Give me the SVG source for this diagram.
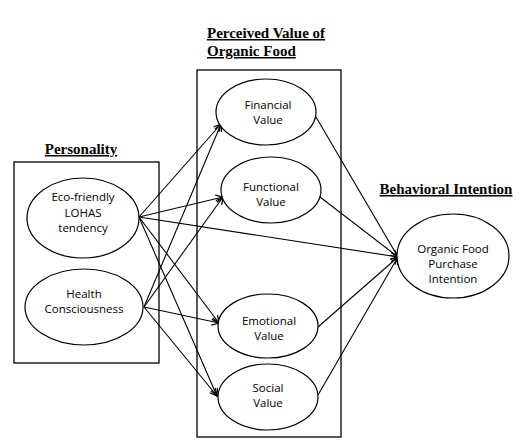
<svg xmlns="http://www.w3.org/2000/svg" width="522" height="445" viewBox="0 0 522 445">
<style>
.box{fill:none;stroke:#000;stroke-width:1.3}
.el{fill:#fff;stroke:#000;stroke-width:1.2}
.t{font-family:"Open Sans","Noto Sans",sans-serif;font-size:11.5px;text-anchor:middle;fill:#000}
.h{font-family:"Liberation Serif",serif;font-weight:bold;font-size:15px;text-decoration:underline;fill:#000}
.c line{stroke:#000;stroke-width:1.1;marker-end:url(#a)}
</style>
<defs>
<marker id="a" viewBox="0 0 10 10" refX="9" refY="5" markerWidth="9" markerHeight="9" markerUnits="userSpaceOnUse" orient="auto">
<path d="M1,1 L9,5 L1,9" fill="none" stroke="#000" stroke-width="1.4"/>
</marker>
</defs>
<rect x="0" y="0" width="522" height="445" fill="#fff"/>
<g id="personality-box">
<rect class="box" x="14" y="162" width="145" height="201"/>
<text class="h" x="81" y="154" text-anchor="middle">Personality</text>
</g>
<g id="value-box">
<rect class="box" x="197" y="70" width="144" height="367"/>
<text class="h" x="207" y="38">Perceived Value of</text>
<text class="h" x="207" y="56">Organic Food</text>
</g>
<text class="h" x="446" y="194" text-anchor="middle">Behavioral Intention</text>
<g class="c" id="connectors">
<line x1="139" y1="217" x2="221" y2="124"/>
<line x1="139" y1="217" x2="223" y2="197"/>
<line x1="139" y1="217" x2="219" y2="323"/>
<line x1="139" y1="217" x2="217" y2="396"/>
<line x1="139" y1="217" x2="398" y2="257"/>
<line x1="144" y1="307" x2="221" y2="124"/>
<line x1="144" y1="307" x2="223" y2="197"/>
<line x1="144" y1="307" x2="219" y2="323"/>
<line x1="144" y1="307" x2="217" y2="396"/>
<line x1="316" y1="117" x2="398" y2="257"/>
<line x1="320" y1="197" x2="398" y2="257"/>
<line x1="318" y1="327" x2="398" y2="257"/>
<line x1="318" y1="395" x2="398" y2="257"/>
</g>
<g id="eco">
<ellipse class="el" cx="83" cy="218" rx="56" ry="40"/>
<text class="t" x="83" y="201">Eco-friendly</text>
<text class="t" x="83" y="216.5">LOHAS</text>
<text class="t" x="83" y="232">tendency</text>
</g>
<g id="health">
<ellipse class="el" cx="84" cy="307" rx="59" ry="38"/>
<text class="t" x="84" y="298">Health</text>
<text class="t" x="84" y="313">Consciousness</text>
</g>
<g id="financial">
<ellipse class="el" cx="266" cy="112" rx="50" ry="33"/>
<text class="t" x="268" y="109">Financial</text>
<text class="t" x="268" y="124">Value</text>
</g>
<g id="functional">
<ellipse class="el" cx="271" cy="190" rx="50" ry="33"/>
<text class="t" x="271" y="191">Functional</text>
<text class="t" x="271" y="206">Value</text>
</g>
<g id="emotional">
<ellipse class="el" cx="268" cy="326" rx="50" ry="32"/>
<text class="t" x="269" y="325">Emotional</text>
<text class="t" x="269" y="340">Value</text>
</g>
<g id="social">
<ellipse class="el" cx="268" cy="397" rx="50" ry="33"/>
<text class="t" x="268" y="392">Social</text>
<text class="t" x="268" y="407">Value</text>
</g>
<g id="purchase">
<ellipse class="el" cx="453" cy="256" rx="56" ry="42"/>
<text class="t" x="453" y="252.5">Organic Food</text>
<text class="t" x="453" y="267.5">Purchase</text>
<text class="t" x="453" y="282.5">Intention</text>
</g>
</svg>
